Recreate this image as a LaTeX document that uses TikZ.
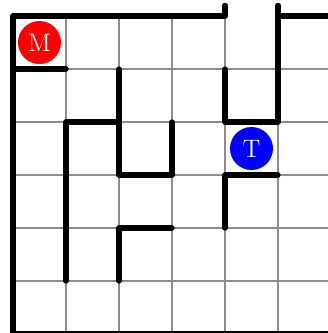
\documentclass[tikz,border=0pt]{standalone}
\usetikzlibrary{positioning}
\begin{document}
\begin{tikzpicture}[
    x=1.06cm,y=-1.06cm,
    wall/.style={line width=3pt,line cap=round,line join=round},
    gridline/.style={black!45,line width=0.6pt},
    agent/.style={circle,minimum size=0.86cm,inner sep=0pt,text=white,font=\Large}
]
\useasboundingbox (-0.245,-0.302) rectangle (5.943,5.981);
\clip (-0.245,-0.302) rectangle (5.943,5.981);
\foreach \i in {1,...,6} {
  \draw[gridline] (\i,0) -- (\i,6);
  \draw[gridline] (0,\i) -- (6,\i);
}

% outer walls
\draw[wall] (4,-0.2) -- (4,0) -- (0,0) -- (0,6) -- (6,6);
\draw[wall] (6,0) -- (5,0);
% inner walls
\draw[wall] (0,1) -- (1,1);
\draw[wall] (1,5) -- (1,2) -- (2,2);
\draw[wall] (2,1) -- (2,3) -- (3,3) -- (3,2);
\draw[wall] (2,5) -- (2,4) -- (3,4);
\draw[wall] (4,1) -- (4,2) -- (5,2) -- (5,-0.2);
\draw[wall] (4,4) -- (4,3) -- (5,3);

\node[agent,fill=red] (M) at (0.5,0.5) {M};
\node[agent,fill=blue] (T) at (4.5,2.5) {T};
\end{tikzpicture}
\end{document}
